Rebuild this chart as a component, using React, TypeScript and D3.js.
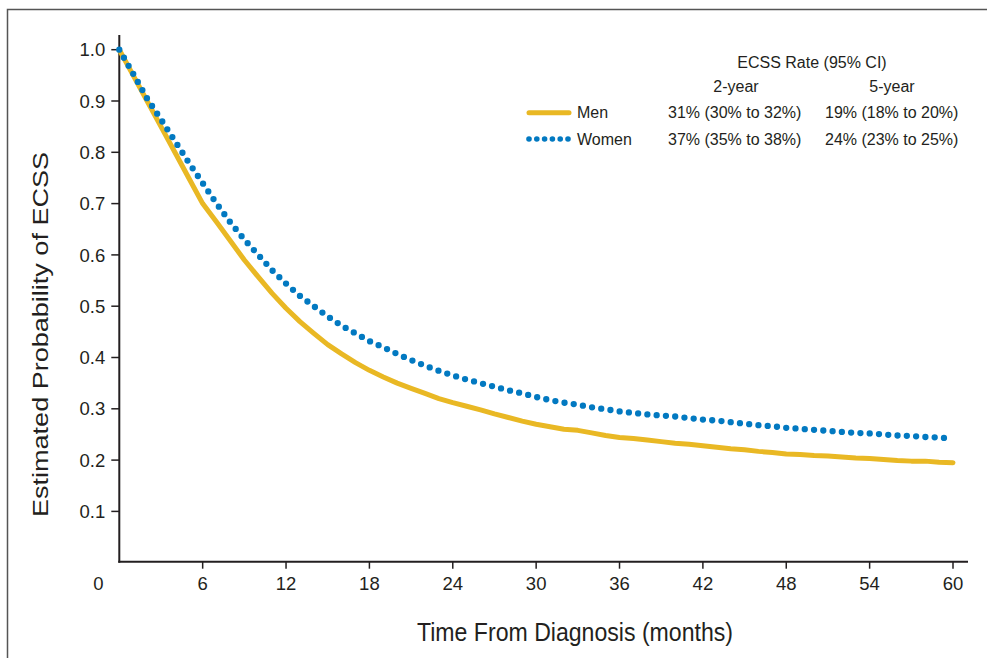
import React from "react";
import * as d3 from "d3";

const months = [0,1,2,3,4,5,6,7,8,9,10,11,12,13,14,15,16,17,18,19,20,21,22,23,24,25,26,27,28,29,30,31,32,33,34,35,36,37,38,39,40,41,42,43,44,45,46,47,48,49,50,51,52,53,54,55,56,57,58,59,60];
const menValues = [1.0,0.95,0.90,0.85,0.80,0.75,0.70,0.664,0.627,0.590,0.557,0.525,0.496,0.470,0.447,0.425,0.407,0.39,0.375,0.362,0.35,0.34,0.33,0.32,0.312,0.305,0.298,0.29,0.283,0.276,0.27,0.265,0.26,0.258,0.253,0.248,0.244,0.242,0.239,0.236,0.233,0.231,0.228,0.225,0.222,0.22,0.217,0.215,0.212,0.211,0.209,0.208,0.206,0.204,0.203,0.201,0.199,0.198,0.198,0.196,0.195];
const womenValues = [1.0,0.953,0.905,0.864,0.822,0.78,0.74,0.70,0.663,0.63,0.60,0.57,0.544,0.52,0.50,0.48,0.462,0.447,0.432,0.42,0.407,0.395,0.384,0.374,0.365,0.357,0.35,0.343,0.336,0.33,0.323,0.317,0.312,0.308,0.303,0.299,0.295,0.292,0.289,0.287,0.285,0.282,0.279,0.277,0.274,0.271,0.268,0.266,0.263,0.261,0.259,0.257,0.255,0.253,0.252,0.25,0.248,0.247,0.245,0.244,0.242];

const xTicks = [6,12,18,24,30,36,42,48,54,60];
const yTicks = [0.1,0.2,0.3,0.4,0.5,0.6,0.7,0.8,0.9,1.0];

const legendTitle = "ECSS Rate (95% CI)";
const legendCols = ["2-year", "5-year"];
const seriesNames = ["Men", "Women"];
const rates2yr = ["31% (30% to 32%)", "37% (35% to 38%)"];
const rates5yr = ["19% (18% to 20%)", "24% (23% to 25%)"];

const W = 987, H = 658;
const FONT = "'Liberation Sans', Arial, Helvetica, sans-serif";
const INK = "#231F20";
const YELLOW = "#E9B824";
const BLUE = "#0279C1";
const TICK_FS = 18.5;
const LEG_FS = 16;

export default function App() {
  const x = d3.scaleLinear().domain([0, 60]).range([119.3, 953]);
  const y = d3.scaleLinear().domain([0, 1]).range([562.7, 49.7]);
  const line = d3.line<number>().x((_, i) => x(months[i])).y((d) => y(d));

  const menPath = line(menValues) || "";
  const womenPath = line(womenValues) || "";

  const legY = [112.7, 139];
  const dotXs = d3.range(6).map((i) => 529 + i * 7.8);

  return (
    <svg width={W} height={H} style={{ position: "absolute", left: 0, top: 0, background: "#fff" }}
      fontFamily={FONT}>
      <rect x={0} y={0} width={W} height={H} fill="#fff" />
      <rect x={7.5} y={9.5} width={W + 20} height={H + 20} fill="none" stroke="#555" strokeWidth={1.5} />

      {/* axes */}
      <line x1={x(0)} x2={x(0)} y1={35} y2={y(0)} stroke={INK} strokeWidth={2} />
      <line x1={x(0) - 1} x2={968} y1={y(0) - 1} y2={y(0) - 1} stroke={INK} strokeWidth={2} />

      {yTicks.map((t) => (
        <g key={"y" + t}>
          <line x1={x(0) - 8} x2={x(0)} y1={y(t)} y2={y(t)} stroke={INK} strokeWidth={1.5} />
          <text x={x(0) - 14} y={y(t)} dy="0.36em" textAnchor="end" fontSize={TICK_FS} fill={INK}>
            {d3.format(".1f")(t)}
          </text>
        </g>
      ))}
      {xTicks.map((t) => (
        <g key={"x" + t}>
          <line x1={x(t)} x2={x(t)} y1={y(0) - 1} y2={y(0) + 6} stroke={INK} strokeWidth={1.5} />
          <text x={x(t)} y={583.5} dy="0.36em" textAnchor="middle" fontSize={TICK_FS} fill={INK}>
            {t}
          </text>
        </g>
      ))}
      <text x={x(0) - 21} y={583.5} dy="0.36em" textAnchor="middle" fontSize={TICK_FS} fill={INK}>0</text>

      {/* axis titles */}
      <text transform="translate(48.3,334.5) rotate(-90)" textAnchor="middle" fontSize={22} fill={INK}
        textLength={365} lengthAdjust="spacingAndGlyphs">Estimated Probability of ECSS</text>
      <text x={575} y={641} textAnchor="middle" fontSize={26} fill={INK}
        textLength={316} lengthAdjust="spacingAndGlyphs">Time From Diagnosis (months)</text>

      {/* curves */}
      <path d={menPath} fill="none" stroke={YELLOW} strokeWidth={5} strokeLinejoin="round" strokeLinecap="round" />
      <path d={womenPath} fill="none" stroke={BLUE} strokeWidth={6.3} strokeLinecap="round" strokeDasharray="0 9.3" />

      {/* legend */}
      <text x={812} y={62} dy="0.36em" textAnchor="middle" fontSize={LEG_FS} fill={INK}>{legendTitle}</text>
      <text x={736} y={86} dy="0.36em" textAnchor="middle" fontSize={LEG_FS} fill={INK}>{legendCols[0]}</text>
      <text x={892} y={86} dy="0.36em" textAnchor="middle" fontSize={LEG_FS} fill={INK}>{legendCols[1]}</text>

      <line x1={529} x2={569} y1={legY[0]} y2={legY[0]} stroke={YELLOW} strokeWidth={5} strokeLinecap="round" />
      {dotXs.map((dx, i) => (
        <circle key={i} cx={dx} cy={legY[1]} r={2.8} fill={BLUE} />
      ))}
      {seriesNames.map((n, i) => (
        <g key={n}>
          <text x={577} y={legY[i]} dy="0.36em" fontSize={LEG_FS} fill={INK}>{n}</text>
          <text x={668} y={legY[i]} dy="0.36em" fontSize={LEG_FS} fill={INK}>{rates2yr[i]}</text>
          <text x={825} y={legY[i]} dy="0.36em" fontSize={LEG_FS} fill={INK}>{rates5yr[i]}</text>
        </g>
      ))}
    </svg>
  );
}
